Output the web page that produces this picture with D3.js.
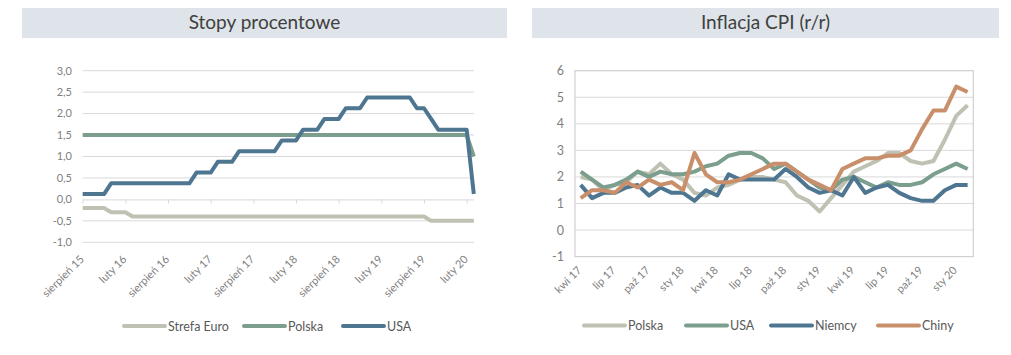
<!DOCTYPE html>
<html><head><meta charset="utf-8">
<script src="https://cdn.jsdelivr.net/npm/d3@7"></script>
<style>
body{margin:0;background:#fff;}
svg{display:block;font-family:Lato, "Open Sans", sans-serif;}
</style></head>
<body><svg id="c" width="1011" height="355"></svg>
<script>
// ---------- DATA: Stopy procentowe ----------
const rateMonths = [
 "2015-08","2015-09","2015-10","2015-11","2015-12",
 "2016-01","2016-02","2016-03","2016-04","2016-05","2016-06","2016-07","2016-08","2016-09","2016-10","2016-11","2016-12",
 "2017-01","2017-02","2017-03","2017-04","2017-05","2017-06","2017-07","2017-08","2017-09","2017-10","2017-11","2017-12",
 "2018-01","2018-02","2018-03","2018-04","2018-05","2018-06","2018-07","2018-08","2018-09","2018-10","2018-11","2018-12",
 "2019-01","2019-02","2019-03","2019-04","2019-05","2019-06","2019-07","2019-08","2019-09","2019-10","2019-11","2019-12",
 "2020-01","2020-02","2020-03"];
const rateStrefaEuro = [
 -0.2,-0.2,-0.2,-0.2,-0.3,
 -0.3,-0.3,-0.4,-0.4,-0.4,-0.4,-0.4,-0.4,-0.4,-0.4,-0.4,-0.4,
 -0.4,-0.4,-0.4,-0.4,-0.4,-0.4,-0.4,-0.4,-0.4,-0.4,-0.4,-0.4,
 -0.4,-0.4,-0.4,-0.4,-0.4,-0.4,-0.4,-0.4,-0.4,-0.4,-0.4,-0.4,
 -0.4,-0.4,-0.4,-0.4,-0.4,-0.4,-0.4,-0.4,-0.5,-0.5,-0.5,-0.5,
 -0.5,-0.5,-0.5];
const ratePolska = [
 1.5,1.5,1.5,1.5,1.5,
 1.5,1.5,1.5,1.5,1.5,1.5,1.5,1.5,1.5,1.5,1.5,1.5,
 1.5,1.5,1.5,1.5,1.5,1.5,1.5,1.5,1.5,1.5,1.5,1.5,
 1.5,1.5,1.5,1.5,1.5,1.5,1.5,1.5,1.5,1.5,1.5,1.5,
 1.5,1.5,1.5,1.5,1.5,1.5,1.5,1.5,1.5,1.5,1.5,1.5,
 1.5,1.5,1.0];
const rateUSA = [
 0.125,0.125,0.125,0.125,0.375,
 0.375,0.375,0.375,0.375,0.375,0.375,0.375,0.375,0.375,0.375,0.375,0.625,
 0.625,0.625,0.875,0.875,0.875,1.125,1.125,1.125,1.125,1.125,1.125,1.375,
 1.375,1.375,1.625,1.625,1.625,1.875,1.875,1.875,2.125,2.125,2.125,2.375,
 2.375,2.375,2.375,2.375,2.375,2.375,2.125,2.125,1.875,1.625,1.625,1.625,
 1.625,1.625,0.125];
const rateTickMonths = ["2015-08","2016-02","2016-08","2017-02","2017-08","2018-02","2018-08","2019-02","2019-08","2020-02"];
const rateTickLabels = ["sierpień 15","luty 16","sierpień 16","luty 17","sierpień 17","luty 18","sierpień 18","luty 19","sierpień 19","luty 20"];
const rateYTicks = [-1,-0.5,0,0.5,1,1.5,2,2.5,3];

// ---------- DATA: Inflacja CPI ----------
const inflMonths = [
 "2017-04","2017-05","2017-06","2017-07","2017-08","2017-09","2017-10","2017-11","2017-12",
 "2018-01","2018-02","2018-03","2018-04","2018-05","2018-06","2018-07","2018-08","2018-09","2018-10","2018-11","2018-12",
 "2019-01","2019-02","2019-03","2019-04","2019-05","2019-06","2019-07","2019-08","2019-09","2019-10","2019-11","2019-12",
 "2020-01","2020-02"];
const cpiPolska = [2.0,1.9,1.5,1.7,1.8,2.2,2.1,2.5,2.1, 1.9,1.4,1.3,1.6,1.7,1.9,2.0,2.0,1.9,1.8,1.3,1.1, 0.7,1.2,1.7,2.2,2.4,2.6,2.9,2.9,2.6,2.5,2.6,3.4, 4.3,4.7];
const cpiUSA    = [2.2,1.9,1.6,1.7,1.9,2.2,2.0,2.2,2.1, 2.1,2.2,2.4,2.5,2.8,2.9,2.9,2.7,2.3,2.5,2.2,1.9, 1.6,1.5,1.9,2.0,1.8,1.6,1.8,1.7,1.7,1.8,2.1,2.3, 2.5,2.3];
const cpiNiemcy = [1.7,1.2,1.4,1.4,1.6,1.7,1.3,1.6,1.4, 1.4,1.1,1.5,1.3,2.1,1.9,1.9,1.9,1.9,2.3,2.0,1.6, 1.4,1.5,1.3,2.0,1.4,1.6,1.7,1.4,1.2,1.1,1.1,1.5, 1.7,1.7];
const cpiChiny  = [1.2,1.5,1.5,1.4,1.8,1.6,1.9,1.7,1.8, 1.5,2.9,2.1,1.8,1.8,1.9,2.1,2.3,2.5,2.5,2.2,1.9, 1.7,1.5,2.3,2.5,2.7,2.7,2.8,2.8,3.0,3.8,4.5,4.5, 5.4,5.2];
const inflTickMonths = ["2017-04","2017-07","2017-10","2018-01","2018-04","2018-07","2018-10","2019-01","2019-04","2019-07","2019-10","2020-01"];
const inflTickLabels = ["kwi 17","lip 17","paź 17","sty 18","kwi 18","lip 18","paź 18","sty 19","kwi 19","lip 19","paź 19","sty 20"];
const inflYTicks = [-1,0,1,2,3,4,5,6];

// ---------- STYLE ----------
const C_GRAY = "#bfc1b3", C_GREEN = "#7b9e8d", C_BLUE = "#4e7691", C_ORANGE = "#c98f6b";
const GRID = "#d9d9d9", TXT = "#595959", BAND = "#dee4e9";
const fmtPL = d3.formatLocale({decimal:",", thousands:" ", grouping:[3], currency:["","zł"], minus:"-"}).format(".1f");

const svg = d3.select("#c");

function title(x0, x1, text){
  svg.append("rect").attr("x",x0).attr("y",8).attr("width",x1-x0).attr("height",30).attr("fill",BAND);
  svg.append("text").attr("x",(x0+x1)/2).attr("y",29).attr("text-anchor","middle")
    .attr("font-size",19).attr("fill","#404040").text(text);
}
function legend(items, y){
  items.forEach(it=>{
    svg.append("line").attr("x1",it.x).attr("x2",it.x+41).attr("y1",y).attr("y2",y)
      .attr("stroke",it.c).attr("stroke-width",4).attr("stroke-linecap","round");
    svg.append("text").attr("x",it.x+44).attr("y",y+4.5).attr("font-size",12.5).attr("fill",TXT).text(it.t);
  });
}

// ---------- LEFT CHART ----------
title(22, 507, "Stopy procentowe");
const xL = d3.scalePoint().domain(rateMonths).range([82.7, 473.8]);
const yL = d3.scaleLinear().domain([-1, 3]).range([242.3, 70.7]);
const gL = svg.append("g");
gL.selectAll("line.grid").data(rateYTicks.filter(d=>d!==0)).join("line")
  .attr("x1",82.7).attr("x2",474).attr("y1",d=>yL(d)).attr("y2",d=>yL(d))
  .attr("stroke",GRID).attr("stroke-width",1);
gL.selectAll("text.yl").data(rateYTicks).join("text")
  .attr("x",72).attr("y",d=>yL(d)+3.8).attr("text-anchor","end")
  .attr("font-size",11).attr("fill","#7f7f7f").text(d=>fmtPL(d));
const axL = d3.axisBottom(xL).tickValues(rateTickMonths).tickSize(4).tickFormat("");
const axG = gL.append("g").attr("transform",`translate(0,${yL(0)})`).call(axL);
axG.select(".domain").attr("stroke",GRID).attr("d",`M82.7,0.5H474`);
axG.selectAll(".tick line").attr("stroke",GRID);
gL.selectAll("text.xl").data(rateTickMonths).join("text")
  .attr("text-anchor","end").attr("font-size",11).attr("fill","#7f7f7f")
  .attr("transform",(d)=>`translate(${xL(d)+2},260) rotate(-45)`)
  .text((d,i)=>rateTickLabels[i]);
const lineL = d3.line().x((d,i)=>xL(rateMonths[i])).y(d=>yL(d));
[[rateStrefaEuro,C_GRAY],[ratePolska,C_GREEN],[rateUSA,C_BLUE]].forEach(([s,c])=>{
  gL.append("path").attr("d",lineL(s)).attr("fill","none").attr("stroke",c)
    .attr("stroke-width",4).attr("stroke-linejoin","round");
});
legend([{x:124,c:C_GRAY,t:"Strefa Euro"},{x:244,c:C_GREEN,t:"Polska"},{x:343,c:C_BLUE,t:"USA"}], 326);

// ---------- RIGHT CHART ----------
title(532, 999, "Inflacja CPI (r/r)");
const xR = d3.scalePoint().domain(inflMonths).range([575, 973.3]).padding(0.5);
const yR = d3.scaleLinear().domain([-1, 6]).range([256.6, 70.7]);
const gR = svg.append("g");
gR.selectAll("line.grid").data(inflYTicks.filter(d=>d>-1 && d<6)).join("line")
  .attr("x1",575).attr("x2",973.3).attr("y1",d=>yR(d)).attr("y2",d=>yR(d))
  .attr("stroke",GRID).attr("stroke-width",1);
gR.append("rect").attr("x",575).attr("y",yR(6)).attr("width",973.3-575).attr("height",yR(-1)-yR(6))
  .attr("fill","none").attr("stroke","#d0d0d0").attr("stroke-width",1.2);
gR.selectAll("text.yl").data(inflYTicks).join("text")
  .attr("x",564).attr("y",d=>yR(d)+4.5).attr("text-anchor","end")
  .attr("font-size",12.5).attr("fill","#7f7f7f").text(d=>d3.format("d")(d).replace("−","-"));
gR.selectAll("text.xl").data(inflTickMonths).join("text")
  .attr("text-anchor","end").attr("font-size",11).attr("fill","#7f7f7f")
  .attr("transform",(d)=>`translate(${xR(d)+1.5},271) rotate(-45)`)
  .text((d,i)=>inflTickLabels[i]);
const lineR = d3.line().x((d,i)=>xR(inflMonths[i])).y(d=>yR(d));
[[cpiPolska,C_GRAY],[cpiUSA,C_GREEN],[cpiNiemcy,C_BLUE],[cpiChiny,C_ORANGE]].forEach(([s,c])=>{
  gR.append("path").attr("d",lineR(s)).attr("fill","none").attr("stroke",c)
    .attr("stroke-width",4).attr("stroke-linejoin","round");
});
legend([{x:584,c:C_GRAY,t:"Polska"},{x:686,c:C_GREEN,t:"USA"},{x:771,c:C_BLUE,t:"Niemcy"},{x:878,c:C_ORANGE,t:"Chiny"}], 325.5);
</script></body></html>
